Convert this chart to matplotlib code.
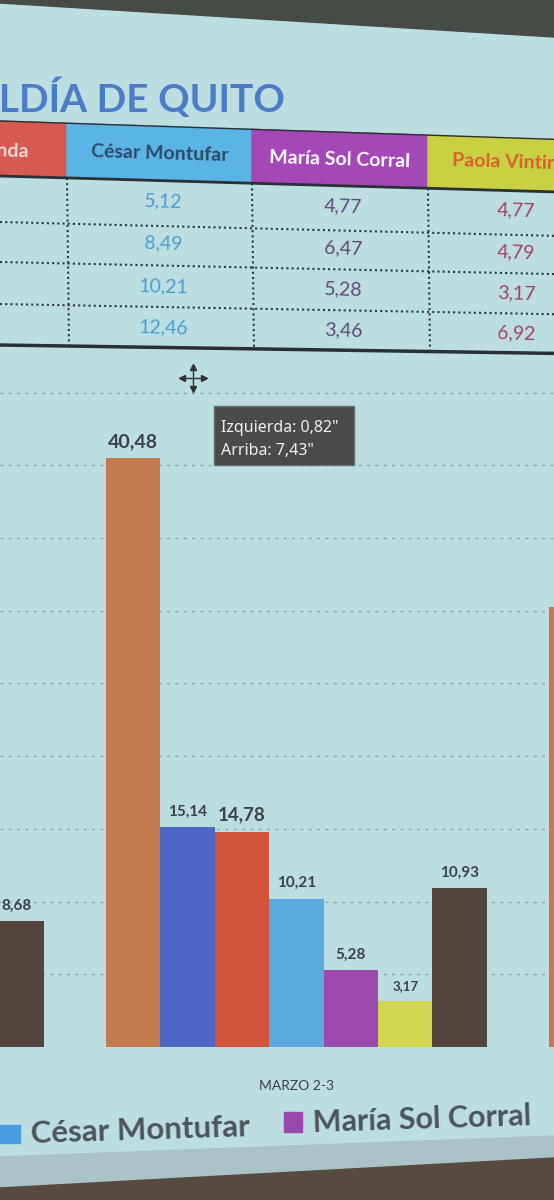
import matplotlib
matplotlib.use("Agg")
import matplotlib.pyplot as plt
from matplotlib.patches import Polygon, Rectangle

W, H = 554, 1200

# --- datos ---
candidatos = ["Paco Moncayo", "Juan Carlos Holguín", "Jorge Yunda", "César Montufar",
              "María Sol Corral", "Paola Vintimilla", "Otros"]
rondas = ["", "MARZO 2-3", ""]
ronda_anterior = [None, None, None, None, None, None, 8.68]
marzo_2_3 = [40.48, 15.14, 14.78, 10.21, 5.28, 3.17, 10.93]
ronda_siguiente = [30.25, None, None, None, None, None, None]

tabla_cols = ["Jorge Yunda", "César Montufar", "María Sol Corral", "Paola Vintimilla"]
montufar_tabla = [5.12, 8.49, 10.21, 12.46]
corral_tabla = [4.77, 6.47, 5.28, 3.46]
vintimilla_tabla = [4.77, 4.79, 3.17, 6.92]

# --- estilo ---
fondo = "#bcdee1"
colores = ["#c47a4e", "#4e66c4", "#d2543c", "#5aaae0", "#9a4aac", "#cfd650", "#52453e"]
tam_etiqueta = [14, 11, 13.5, 11, 11, 9.5, 11]
FUENTE = "Lato"


def coma(v):
    return f"{v:.2f}".replace(".", ",")


fig = plt.figure(figsize=(W / 100, H / 100), dpi=100, facecolor=fondo)

# grafico de barras
ax = fig.add_axes([0, (H - 1047) / H, 1, 669 / H])
ax.set_facecolor("none")
gap = 1.15
for r, vals in enumerate([ronda_anterior, marzo_2_3, ronda_siguiente]):
    for i, v in enumerate(vals):
        if v is None:
            continue
        b = ax.bar(r * (7 + gap) + i, v, width=1, align="edge", color=colores[i], zorder=2)
        ax.bar_label(b, labels=[coma(v)], padding=6, fontsize=tam_etiqueta[i],
                     fontweight="bold", color="#3a4248", family=FUENTE)
ax.set_xticks([r * (7 + gap) + 3.5 for r in range(3)], rondas)
ax.set_yticks(range(5, 46, 5))
ax.set_xlim(6.2, 16.385)
ax.set_ylim(0, 46)
ax.yaxis.grid(True, linestyle=(0, (2, 4)), color="#8ea4a8", linewidth=1, zorder=0)
ax.tick_params(left=False, labelleft=False, bottom=False, pad=20)
for lbl in ax.get_xticklabels():
    lbl.set_fontsize(10)
    lbl.set_color("#3a4048")
    lbl.set_family(FUENTE)
for s in ax.spines.values():
    s.set_visible(False)

# capa superior: pantalla, titulo, tabla, leyenda
ov = fig.add_axes([0, 0, 1, 1])
ov.set_xlim(0, W)
ov.set_ylim(H, 0)
ov.axis("off")
ov.patch.set_alpha(0)

ov.add_patch(Polygon([(0, 0), (W, 0), (W, 37), (0, 3)], color="#474b46"))
ov.add_patch(Polygon([(0, 1157), (W, 1136), (W, H), (0, H)], color="#a9c3c6"))
ov.add_patch(Polygon([(0, 1188), (W, 1158), (W, H), (0, H)], color="#574a40"))

ov.text(285, 112, "ALCALDÍA DE QUITO", ha="right", va="baseline", fontsize=28,
        fontweight="bold", color="#4a7cc8", family=FUENTE)


def sy(x, y):
    return y + x * (0.033 - (y - 122) * 0.00008)


bordes = [-130, 67, 252, 428, 660]
cab_fondo = ["#d65a52", "#5ab4e6", "#a448b8", "#c9d042"]
cab_texto = ["#f4dada", "#2c4a66", "#ffffff", "#d86030"]
top, bot = 121, 176
for j, nombre in enumerate(tabla_cols):
    x0, x1 = bordes[j], bordes[j + 1]
    ov.add_patch(Polygon([(x0, sy(x0, top)), (x1, sy(x1, top)),
                          (x1, sy(x1, bot)), (x0, sy(x0, bot))], color=cab_fondo[j]))
    if j == 0:
        xt, ha = 29, "right"
    elif j == 3:
        xt, ha = 452, "left"
    else:
        xt, ha = (x0 + x1) / 2, "center"
    ov.text(xt, sy(xt, 149), nombre, ha=ha, va="center", fontsize=14,
            fontweight="bold", color=cab_texto[j], family=FUENTE, rotation=-1.7)

ov.plot([0, W], [sy(0, top), sy(W, top)], color="#2a3035", lw=1)
ov.plot([0, W], [sy(0, bot), sy(W, bot)], color="#2a3035", lw=2)
for y0 in [222, 262, 304]:
    ov.plot([0, W], [sy(0, y0), sy(W, y0)], color="#2e3640", lw=1.5, ls=(0, (1, 1.5)))
for xv in bordes[1:4]:
    ov.plot([xv, xv + 2], [sy(xv, bot), sy(xv, 345)], color="#2e3640", lw=1.5, ls=(0, (1, 1.5)))
ov.plot([0, W], [sy(0, 345), sy(W, 345)], color="#2a3035", lw=2.5)

filas_y = [197, 240, 283, 325]
cols_val = [(163, montufar_tabla, "#4a9ed0"), (343, corral_tabla, "#604878"),
            (516, vintimilla_tabla, "#a84060")]
for xc, vals, col in cols_val:
    for yf, v in zip(filas_y, vals):
        ov.text(xc, sy(xc, yf), coma(v), ha="center", va="center", fontsize=14,
                color=col, family=FUENTE, rotation=-1.7)

# indicador de posicion
ov.add_patch(Rectangle((214, 406), 140, 59, fc="#4a4a48", ec="#6a6a68", lw=1))
ov.text(221, 432, 'Izquierda: 0,82"', ha="left", va="baseline", fontsize=11.5,
        fontweight="semibold", color="#f0f0f0", family="Noto Sans")
ov.text(221, 455, 'Arriba: 7,43"', ha="left", va="baseline", fontsize=11.5,
        fontweight="semibold", color="#f0f0f0", family="Noto Sans")
ov.plot([182, 204], [378, 378], color="#303030", lw=1)
ov.plot([193, 193], [367, 389], color="#303030", lw=1)
for mx, my, mk in [(182, 378, "<"), (204, 378, ">"), (193, 367, "^"), (193, 389, "v")]:
    ov.plot(mx, my, marker=mk, color="#303030", markersize=4)

# leyenda
ov.add_patch(Rectangle((-2, 1125), 22, 18, color="#4a9ee0"))
ov.text(30, 1143, "César Montufar", ha="left", va="baseline", fontsize=22.5,
        fontweight="bold", color="#4c545a", family=FUENTE, rotation=1.8)
ov.add_patch(Rectangle((284, 1112), 18, 20, color="#9a48ac"))
ov.text(312, 1132, "María Sol Corral", ha="left", va="baseline", fontsize=22,
        fontweight="bold", color="#4c545a", family=FUENTE, rotation=1.8)

fig.savefig("out.png", dpi=100, facecolor=fondo)
